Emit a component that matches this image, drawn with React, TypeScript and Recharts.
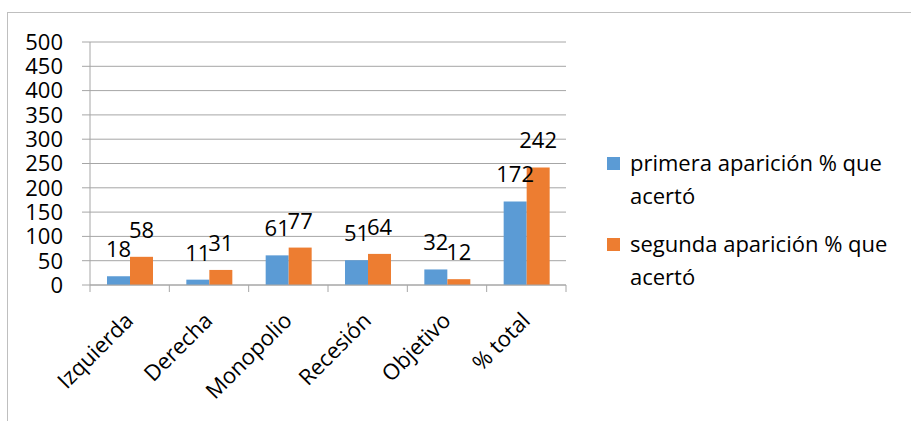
import React from 'react';
import {
  BarChart,
  Bar,
  XAxis,
  YAxis,
  CartesianGrid,
  LabelList,
} from 'recharts';

const categorias = ['Izquierda', 'Derecha', 'Monopolio', 'Recesión', 'Objetivo', '% total'];
const primera = [18, 11, 61, 51, 32, 172];
const segunda = [58, 31, 77, 64, 12, 242];
const yTicks = [0, 50, 100, 150, 200, 250, 300, 350, 400, 450, 500];

const series = [
  { key: 'primera', name: 'primera aparición % que acertó', color: '#5B9BD5' },
  { key: 'segunda', name: 'segunda aparición % que acertó', color: '#ED7D31' },
];

const data = categorias.map((c, i) => ({
  categoria: c,
  primera: primera[i],
  segunda: segunda[i],
}));

const FONT = '"Open Sans", sans-serif';
const GRID = '#A6A6A6';

const CHART_W = 911;
const CHART_H = 421;
const MARGIN = { top: 42, right: 345, left: 0, bottom: 0 };
const Y_W = 90;
const PLOT_W = CHART_W - MARGIN.left - MARGIN.right - Y_W;
const BAND = PLOT_W / categorias.length;

// category labels rotated like the original, plus tick marks between categories
const CategoryTick = ({ x, y, payload, index }: any) => {
  const left = x - BAND / 2;
  const right = x + BAND / 2;
  const tx = x + 5;
  const ty = y + 37;
  return (
    <g>
      <line x1={left} y1={y} x2={left} y2={y + 7} stroke={GRID} />
      {index === categorias.length - 1 && (
        <line x1={right} y1={y} x2={right} y2={y + 7} stroke={GRID} />
      )}
      <text
        x={tx}
        y={ty}
        transform={`rotate(-45, ${tx}, ${ty})`}
        textAnchor="end"
        fontSize={22}
        fontFamily={FONT}
        fill="#000"
      >
        {payload.value}
      </text>
    </g>
  );
};

export default function App() {
  return (
    <div
      style={{
        position: 'absolute',
        left: 0,
        top: 0,
        width: CHART_W,
        height: CHART_H,
        background: '#fff',
        overflow: 'hidden',
        fontFamily: FONT,
      }}
    >
      <div
        style={{
          position: 'absolute',
          left: 7,
          top: 12,
          width: 1000,
          height: 1000,
          borderLeft: '1px solid #BFBFBF',
          borderTop: '1px solid #BFBFBF',
        }}
      />
      <div style={{ position: 'absolute', left: 0, top: 0 }}>
        <BarChart
          width={CHART_W}
          height={CHART_H}
          data={data}
          margin={MARGIN}
          barGap={0}
          barSize={23}
        >
          <CartesianGrid vertical={false} stroke={GRID} />
          <XAxis
            dataKey="categoria"
            height={136}
            interval={0}
            tickLine={false}
            tickSize={0}
            tickMargin={0}
            axisLine={{ stroke: GRID }}
            tick={<CategoryTick />}
          />
          <YAxis
            width={Y_W}
            domain={[0, 500]}
            ticks={yTicks}
            interval={0}
            tickSize={8}
            tickMargin={19}
            tickLine={{ stroke: GRID }}
            axisLine={{ stroke: GRID }}
            tick={{ fontSize: 22, fill: '#000', fontFamily: FONT }}
          />
          {series.map((s) => (
            <Bar key={s.key} dataKey={s.key} name={s.name} fill={s.color} isAnimationActive={false}>
              <LabelList
                dataKey={s.key}
                position="top"
                offset={19}
                fill="#000"
                fontSize={22}
                fontFamily={FONT}
              />
            </Bar>
          ))}
        </BarChart>
      </div>
      <div style={{ position: 'absolute', left: 607, top: 146 }}>
        {series.map((s, i) => (
          <div
            key={s.key}
            style={{
              display: 'flex',
              alignItems: 'flex-start',
              marginBottom: i === 0 ? 15 : 0,
            }}
          >
            <div
              style={{
                width: 13,
                height: 13,
                background: s.color,
                marginTop: 11,
                marginRight: 10,
                flexShrink: 0,
              }}
            />
            <div style={{ fontSize: 22, lineHeight: '33px', width: 270, color: '#000' }}>
              {s.name}
            </div>
          </div>
        ))}
      </div>
    </div>
  );
}
